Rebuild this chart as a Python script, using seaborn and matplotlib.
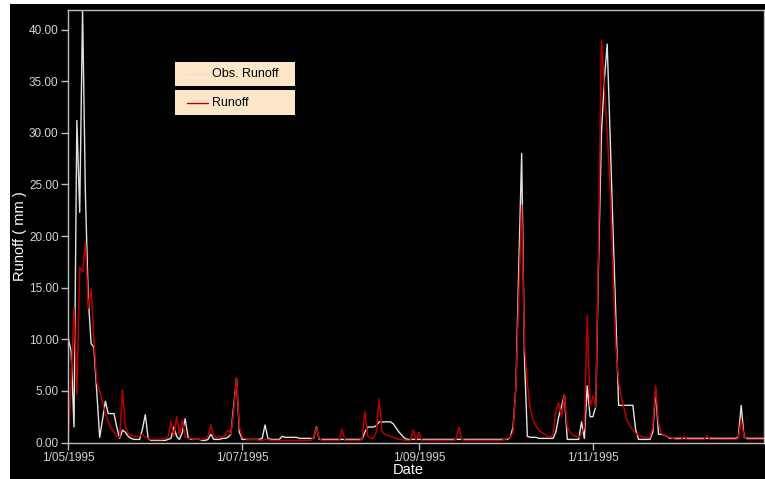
import numpy as np
import pandas as pd
import matplotlib
matplotlib.use("Agg")
import matplotlib.pyplot as plt
import matplotlib.dates as mdates
from matplotlib.patches import Rectangle
from matplotlib.lines import Line2D
import seaborn as sns

# ---------------- data ----------------
start_date = "1995-05-01"
n_days = 245

obs_runoff = [
    10.1, 8.8, 1.5, 31.2, 22.3, 42.0, 24.0, 14.0, 9.6, 9.2,
    4.8, 0.5, 2.2, 4.0, 2.8, 2.8, 2.8, 1.5, 0.4, 1.2,
    1.0, 0.6, 0.4, 0.3, 0.3, 0.3, 1.3, 2.7, 0.4, 0.2,
    0.2, 0.2, 0.2, 0.2, 0.2, 0.3, 0.4, 1.5, 0.6, 0.3,
    1.0, 2.3, 0.5, 0.3, 0.3, 0.4, 0.3, 0.2, 0.2, 0.3,
    0.8, 0.3, 0.3, 0.3, 0.4, 0.4, 0.5, 0.8, 3.5, 6.2,
    1.0, 0.3, 0.3, 0.3, 0.3, 0.3, 0.3, 0.3, 0.4, 1.7,
    0.4, 0.3, 0.3, 0.3, 0.3, 0.6, 0.5, 0.5, 0.5, 0.5,
    0.5, 0.4, 0.4, 0.4, 0.4, 0.4, 0.4, 1.5, 0.3, 0.3,
    0.3, 0.3, 0.3, 0.3, 0.3, 0.3, 0.3, 0.3, 0.3, 0.3,
    0.3, 0.3, 0.3, 0.3, 1.0, 1.5, 1.5, 1.5, 1.6, 2.0,
    2.0, 2.0, 2.0, 2.0, 1.8, 1.4, 1.0, 0.7, 0.4, 0.3,
    0.3, 0.3, 0.3, 0.3, 0.3, 0.3, 0.3, 0.3, 0.3, 0.3,
    0.3, 0.3, 0.3, 0.3, 0.3, 0.3, 0.3, 0.3, 0.3, 0.3,
    0.3, 0.3, 0.3, 0.3, 0.3, 0.3, 0.3, 0.3, 0.3, 0.3,
    0.3, 0.3, 0.3, 0.3, 0.3, 0.5, 1.5, 5.4, 17.0, 28.0,
    8.0, 0.6, 0.5, 0.5, 0.5, 0.4, 0.4, 0.4, 0.4, 0.4,
    0.4, 1.0, 2.5, 3.5, 4.6, 0.3, 0.3, 0.3, 0.3, 0.3,
    2.0, 0.4, 5.5, 2.5, 2.5, 3.5, 17.9, 30.0, 35.1, 38.6,
    30.0, 21.0, 12.5, 3.6, 3.6, 3.6, 3.6, 3.6, 3.6, 1.2,
    0.3, 0.3, 0.3, 0.3, 0.3, 1.0, 5.1, 0.8, 0.8, 0.7,
    0.6, 0.4, 0.4, 0.4, 0.4, 0.4, 0.4, 0.4, 0.4, 0.4,
    0.4, 0.4, 0.4, 0.4, 0.4, 0.4, 0.4, 0.4, 0.4, 0.4,
    0.4, 0.4, 0.4, 0.4, 0.4, 0.5, 3.6, 0.5, 0.4, 0.4,
    0.4, 0.4, 0.4, 0.4, 0.4,
]

sim_runoff = [
    0.5, 6.0, 13.0, 4.7, 17.0, 16.5, 19.4, 13.0, 14.9, 10.0,
    5.8, 5.0, 3.8, 2.8, 2.0, 1.4, 1.0, 0.6, 0.5, 5.1,
    1.6, 0.9, 0.7, 0.6, 0.6, 0.6, 0.8, 0.5, 0.4, 0.3,
    0.3, 0.3, 0.3, 0.3, 0.4, 0.5, 2.1, 0.6, 2.5, 0.7,
    2.2, 0.5, 0.4, 0.4, 0.3, 0.4, 0.3, 0.3, 0.4, 0.6,
    1.7, 0.7, 0.5, 0.6, 0.5, 0.7, 1.2, 0.8, 3.0, 6.3,
    1.5, 0.5, 0.4, 0.3, 0.3, 0.3, 0.3, 0.2, 0.2, 0.3,
    0.3, 0.2, 0.2, 0.2, 0.2, 0.2, 0.2, 0.2, 0.2, 0.2,
    0.2, 0.2, 0.2, 0.2, 0.2, 0.2, 0.5, 1.4, 0.4, 0.2,
    0.2, 0.2, 0.2, 0.2, 0.2, 0.2, 1.3, 0.2, 0.2, 0.2,
    0.2, 0.2, 0.2, 0.3, 3.0, 0.6, 0.4, 0.4, 1.0, 4.2,
    1.1, 0.8, 0.7, 0.6, 0.5, 0.4, 0.3, 0.3, 0.2, 0.2,
    0.2, 1.2, 0.2, 1.0, 0.2, 0.2, 0.2, 0.2, 0.2, 0.2,
    0.2, 0.2, 0.2, 0.2, 0.2, 0.2, 0.3, 1.5, 0.3, 0.2,
    0.2, 0.2, 0.2, 0.2, 0.2, 0.2, 0.2, 0.2, 0.2, 0.2,
    0.2, 0.2, 0.2, 0.3, 0.4, 0.5, 1.0, 5.4, 14.0, 23.0,
    9.5, 5.7, 3.3, 2.2, 1.6, 1.2, 1.0, 0.8, 0.6, 0.5,
    0.8, 3.0, 3.85, 2.5, 4.6, 1.5, 1.0, 0.7, 0.6, 0.5,
    0.8, 1.5, 12.3, 3.5, 4.5, 3.4, 20.0, 39.0, 34.5, 30.0,
    25.0, 17.0, 9.5, 6.0, 4.4, 3.2, 2.1, 1.6, 1.2, 0.9,
    0.7, 0.6, 0.5, 0.5, 0.5, 1.5, 5.5, 1.9, 0.9, 0.7,
    0.6, 0.5, 0.4, 0.3, 0.3, 0.3, 0.6, 0.3, 0.3, 0.3,
    0.3, 0.3, 0.3, 0.3, 0.65, 0.3, 0.3, 0.3, 0.3, 0.3,
    0.3, 0.3, 0.3, 0.3, 0.3, 0.4, 2.2, 0.5, 0.3, 0.3,
    0.3, 0.3, 0.3, 0.3, 0.3,
]

x_tick_dates = ["1995-05-01", "1995-07-01", "1995-09-01", "1995-11-01"]
x_tick_labels = ["1/05/1995", "1/07/1995", "1/09/1995", "1/11/1995"]
y_ticks = [0, 5, 10, 15, 20, 25, 30, 35, 40]
series_names = ["Obs. Runoff", "Runoff"]

# ---------------- style ----------------
sns.set_theme(style="dark")
plt.rcParams["font.family"] = ["Liberation Sans", "DejaVu Sans"]

W, H = 765, 479
fig = plt.figure(figsize=(W / 100, H / 100), dpi=100, facecolor="white")
fig.patches.append(Rectangle((10 / W, 0), 1 - 10 / W, (H - 4) / H,
                             transform=fig.transFigure, facecolor="black",
                             edgecolor="none", zorder=-5))

ax_l, ax_r, ax_t, ax_b = 68.3, 764.0, 10.0, 442.5
ax = fig.add_axes([ax_l / W, (H - ax_b) / H, (ax_r - ax_l) / W, (ax_b - ax_t) / H])
ax.set_facecolor("black")

dates = pd.date_range(start_date, periods=n_days, freq="D")
df = pd.DataFrame({"Date": dates, series_names[0]: obs_runoff, series_names[1]: sim_runoff})

obs_color = "#e2e2e2"
sim_color = "#b80000"
sns.lineplot(data=df, x="Date", y=series_names[0], ax=ax, color=obs_color, linewidth=1.0)
sns.lineplot(data=df, x="Date", y=series_names[1], ax=ax, color=sim_color, linewidth=1.1)

ax.set_xlim(dates[0], dates[-1])
ax.set_ylim(0, 41.9)

ax.set_yticks(y_ticks)
ax.set_yticklabels([f"{v:.2f}" for v in y_ticks])
ax.set_xticks(pd.to_datetime(x_tick_dates))
ax.set_xticklabels(x_tick_labels)

tick_color = "#d4d4d4"
ax.tick_params(axis="both", which="both", direction="out", length=5, width=1,
               color="#bdbdbd", labelcolor=tick_color, labelsize=8.5, pad=2,
               left=True, bottom=True)
ax.grid(False)
for s in ax.spines.values():
    s.set_visible(True)
    s.set_color("#bdbdbd")
    s.set_linewidth(1.0)

ax.set_xlabel("Date", color="white", fontsize=10.5)
ax.set_ylabel("Runoff ( mm )", color="white", fontsize=10.5)
ax.xaxis.set_label_coords((408 - ax_l) / (ax_r - ax_l), (ax_b - 470) / (ax_b - ax_t))
ax.yaxis.set_label_coords((20 - ax_l) / (ax_r - ax_l), (ax_b - 236.5) / (ax_b - ax_t))
ax.xaxis.label.set_va("center")
ax.yaxis.label.set_va("center")

# ---------------- legend boxes ----------------
def fx(px):
    return px / W

def fy(py):
    return (H - py) / H

box_fc = "#fde7c8"
for (y0, y1, name, col) in [(61.7, 85.7, series_names[0], obs_color),
                            (90.0, 115.0, series_names[1], sim_color)]:
    fig.patches.append(Rectangle((fx(175), fy(y1)), fx(295) - fx(175), fy(y0) - fy(y1),
                                 transform=fig.transFigure, facecolor=box_fc,
                                 edgecolor="none", zorder=10))
    yc = fy((y0 + y1) / 2)
    fig.lines.append(Line2D([fx(187), fx(208)], [yc, yc], transform=fig.transFigure,
                            color=col, linewidth=1.0, zorder=11))
    fig.text(fx(212), yc, name, color="black", fontsize=9, va="center", ha="left", zorder=12)

fig.savefig("out.png", dpi=100, facecolor=fig.get_facecolor())
